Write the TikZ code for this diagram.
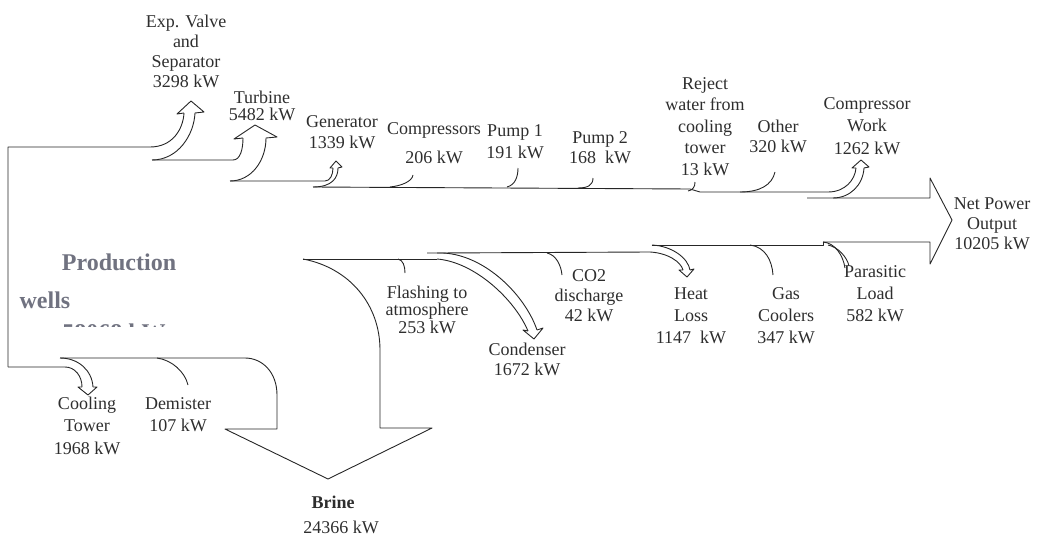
\documentclass[tikz,border=0pt]{standalone}
\usepackage{fontspec}
\setmainfont{Liberation Serif}
\definecolor{prodgray}{RGB}{112,114,128}
\newcommand\lablines[6]{%
  \foreach \t [count=\i from 0] in {#6}{%
    \node[lbl,#5,anchor=base] (#1\i) at (#2,{#3+\i*#4}) {\t};}}
\begin{document}
\begin{tikzpicture}[x=1pt,y=-1pt,
  flow/.style={draw=black!85, line width=0.9pt, line join=round},
  lbl/.style={text=black!82, font=\fontsize{18}{20}\selectfont, inner sep=0pt},
  prod/.style={text=prodgray, font=\bfseries\fontsize{24}{26}\selectfont, inner sep=0pt}]
\useasboundingbox (0,0) rectangle (1039,535);

% ---------- top part ----------
\draw[flow] (8,367) -- (8,147) -- (150,147) .. controls (172,147) and (183,130) .. (184,113);
\draw[flow] (152,160) .. controls (178,160) and (194,135) .. (195,113);
\draw[flow] (184,113) -- (177,114) -- (191,101) -- (204,112) -- (195,113);
% turbine
\draw[flow] (152,160) -- (233,160) .. controls (240,160) and (243,150) .. (243,138);
\draw[flow] (230,181) .. controls (252,181) and (266,160) .. (266,138);
\draw[flow] (243,138) -- (234,139) -- (255,125) -- (277,137) -- (266,138);
% generator
\draw[flow] (230,181) -- (325,181) .. controls (330,181) and (333,175) .. (333,168);
\draw[flow] (313,187) .. controls (332,187) and (338,178) .. (338,168);
\draw[flow] (333,168) -- (330,168) -- (336,161) -- (342,167) -- (338,168);
% main upper line
\draw[flow] (313,187) -- (690,189) -- (700,192) -- (828,192) .. controls (845,192) and (855,180) .. (856,168);
% small losses
\draw[flow] (390,187) .. controls (400,186) and (412,182) .. (413,175);
\draw[flow] (507,187) .. controls (515,185) and (518,177) .. (518,168);
\draw[flow] (578,188) .. controls (588,188) and (593,185) .. (593,178);
\draw[flow] (688,191) .. controls (693,190) and (695,187) .. (695,182);
\draw[flow] (740,192) .. controls (760,192) and (772,185) .. (775,172);
% compressor work
\draw[flow] (833,198) .. controls (850,198) and (863,185) .. (864,168);
\draw[flow] (856,168) -- (852,168) -- (861,160) -- (869,167) -- (864,168);
% net power arrow
\draw[flow] (807,198) -- (930,198) -- (930,178) -- (952,220) -- (930,264) -- (930,242) -- (823,242);

% ---------- lower part ----------
\draw[flow] (823,242) .. controls (835,243) and (843,255) .. (845,268);
\draw[flow] (828,245) .. controls (838,247) and (847,257) .. (849,266);
\draw[flow] (652,245) -- (823,245) -- (823,242);
% heat loss
\draw[flow] (652,245) .. controls (672,246) and (688,258) .. (690,270);
\draw[flow] (437,253) -- (650,252) .. controls (668,253) and (681,262) .. (683,270);
\draw[flow] (683,270) -- (679,270) -- (687,277) -- (694,269) -- (690,270);
% gas coolers, CO2
\draw[flow] (750,245) .. controls (765,247) and (772,260) .. (773,275);
\draw[flow] (547,253) .. controls (556,255) and (561,265) .. (562,275);
% condenser
\draw[flow] (427,253) -- (443,253) .. controls (485,255) and (525,295) .. (537,330);
\draw[flow] (437,259) .. controls (475,262) and (515,300) .. (528,331);
\draw[flow] (528,331) -- (523,330) -- (534,339) -- (543,328) -- (537,330);
% flashing
\draw[flow] (303,259) -- (437,259);
\draw[flow] (398,259) .. controls (403,260) and (405,266) .. (405,273);
% brine
\draw[flow] (303,259) .. controls (350,268) and (380,305) .. (380,350) -- (380,428) -- (432,428)
  -- (328,479) -- (225,429) -- (277,429) -- (277,395) .. controls (277,372) and (262,358) .. (245,358) -- (60,358);
% demister
\draw[flow] (157,358) .. controls (172,360) and (185,372) .. (188,385);
% cooling tower
\draw[flow] (60,358) .. controls (78,358) and (92,370) .. (93,387);
\draw[flow] (8,367) -- (65,367) .. controls (75,367) and (82,376) .. (82,387);
\draw[flow] (82,387) -- (78,387) -- (88,395) -- (97,387) -- (93,387);

% ---------- labels ----------
\lablines{expv}{186}{28}{19.7}{}{Exp. Valve,and,Separator,3298 kW}
\lablines{turb}{262}{103}{18}{}{Turbine,5482 kW}
\lablines{gen}{342}{128}{20}{}{Generator,1339 kW}
\lablines{comp}{434}{134}{29}{}{Compressors,206 kW}
\lablines{pumpa}{515}{136}{22}{}{Pump 1,191 kW}
\lablines{pumpb}{600}{143}{20}{}{Pump 2,168 \ kW}
\lablines{rej}{705}{89}{21.5}{}{Reject,water from,cooling,tower,13 kW}
\lablines{oth}{778}{132}{20}{}{Other,320 kW}
\lablines{cw}{867}{109}{22.5}{}{Compressor,Work,1262 kW}
\lablines{net}{992}{209}{20}{}{Net Power,Output,10205 kW}
\lablines{fla}{427}{298}{17.5}{}{Flashing to,atmosphere,253 kW}
\lablines{cond}{527}{355}{20}{}{Condenser,1672 kW}
\lablines{coo}{589}{281}{20}{}{CO2,discharge,42 kW}
\lablines{heat}{691}{299}{22}{}{Heat,Loss,1147 \ kW}
\lablines{gas}{786}{299}{22}{}{Gas,Coolers,347 kW}
\lablines{par}{875}{277}{22}{}{Parasitic,Load,582 kW}
\lablines{ct}{87}{409}{22.5}{}{Cooling,Tower,1968 kW}
\lablines{dem}{178}{409}{22}{}{Demister,107 kW}
\node[lbl,anchor=base,font=\bfseries\fontsize{18}{20}\selectfont] (brine) at (333,508) {Brine};
\node[lbl,anchor=base] (brinekw) at (341,533) {24366 kW};

\node[prod,anchor=base] (prodA) at (119,270) {Production};
\node[prod,anchor=base] (prodB) at (45,308) {wells};
\begin{scope}
  \clip (55,322) rectangle (180,326.5);
  \node[prod,anchor=base] (prodC) at (114,340) {58068 kW};
\end{scope}
\end{tikzpicture}
\end{document}
